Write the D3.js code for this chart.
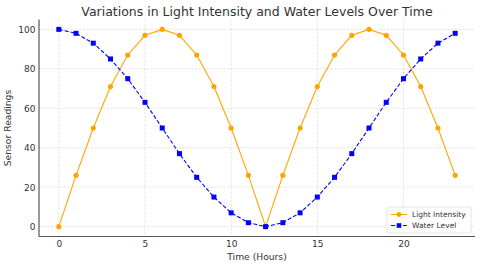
<!DOCTYPE html>
<html>
<head>
<meta charset="utf-8">
<script src="https://cdn.jsdelivr.net/npm/d3@7"></script>
<style>
  body { margin: 0; background: #fff; }
  text { font-family: "DejaVu Sans", sans-serif; }
</style>
</head>
<body>
<script>
//chart data
var hours = d3.range(0, 24);
var lightIntensity = [0, 26, 50, 71, 87, 97, 100, 97, 87, 71, 50, 26,
                      0, 26, 50, 71, 87, 97, 100, 97, 87, 71, 50, 26];
var waterLevel = [100, 98, 93, 85, 75, 63, 50, 37, 25, 15, 7, 2,
                  0, 2, 7, 15, 25, 37, 50, 63, 75, 85, 93, 98];
var xTicks = [0, 5, 10, 15, 20];
var yTicks = [0, 20, 40, 60, 80, 100];

window.onload = drawChart();

function drawChart() {
    var width = 480,
        height = 267;
    var left = 39, right = 475, top = 19.5, bottom = 236.5;

    var svg = d3.select("body")
        .append("svg")
        .attr("width", width)
        .attr("height", height);

    var x = d3.scaleLinear().domain([-1.15, 24.15]).range([left, right]);
    var y = d3.scaleLinear().domain([-5, 105]).range([bottom, top]);

    //grid
    svg.append("g").selectAll("line").data(xTicks).enter().append("line")
        .attr("x1", d => x(d)).attr("x2", d => x(d))
        .attr("y1", top).attr("y2", bottom)
        .attr("stroke", "#d9d9d9").attr("stroke-width", 0.7)
        .attr("stroke-dasharray", "2.5,1.5");
    svg.append("g").selectAll("line").data(yTicks).enter().append("line")
        .attr("x1", left).attr("x2", right)
        .attr("y1", d => y(d)).attr("y2", d => y(d))
        .attr("stroke", "#d9d9d9").attr("stroke-width", 0.7)
        .attr("stroke-dasharray", "2.5,1.5");

    //axes (no visible tick marks, like the reference)
    var xAxis = svg.append("g")
        .attr("transform", "translate(0," + bottom + ")")
        .call(d3.axisBottom(x).tickValues(xTicks).tickSize(0).tickPadding(4.5));
    var yAxis = svg.append("g")
        .attr("transform", "translate(" + left + ",0)")
        .call(d3.axisLeft(y).tickValues(yTicks).tickSize(0).tickPadding(3.5));
    [xAxis, yAxis].forEach(function (g) {
        g.select(".domain").attr("stroke", "#555").attr("stroke-width", 1.2);
        g.selectAll(".tick text").attr("fill", "#333").style("font-size", "9px")
            .style("font-family", "DejaVu Sans, sans-serif");
    });
    xAxis.select(".domain").attr("d", "M" + left + ",0H" + right);
    yAxis.select(".domain").attr("d", "M0," + bottom + "V" + top);

    //lines
    var seriesLine = d3.line().x((d, i) => x(hours[i])).y(d => y(d));
    svg.append("path").datum(lightIntensity)
        .attr("d", seriesLine)
        .attr("fill", "none").attr("stroke", "orange").attr("stroke-width", 1.1);
    svg.append("g").selectAll("circle").data(lightIntensity).enter().append("circle")
        .attr("cx", (d, i) => x(hours[i])).attr("cy", d => y(d))
        .attr("r", 2.6).attr("fill", "orange");

    svg.append("path").datum(waterLevel)
        .attr("d", seriesLine)
        .attr("fill", "none").attr("stroke", "blue").attr("stroke-width", 1.1)
        .attr("stroke-dasharray", "4,2");
    svg.append("g").selectAll("rect").data(waterLevel).enter().append("rect")
        .attr("x", (d, i) => x(hours[i]) - 2.5).attr("y", d => y(d) - 2.5)
        .attr("width", 5).attr("height", 5).attr("fill", "blue");

    //title and labels
    svg.append("text")
        .attr("x", (left + right) / 2).attr("y", 16)
        .attr("text-anchor", "middle")
        .attr("fill", "#333").style("font-size", "12.5px")
        .text("Variations in Light Intensity and Water Levels Over Time");
    svg.append("text")
        .attr("x", (left + right) / 2).attr("y", 260)
        .attr("text-anchor", "middle")
        .attr("fill", "#333").style("font-size", "9.2px")
        .text("Time (Hours)");
    svg.append("text")
        .attr("transform", "translate(11," + ((top + bottom) / 2) + ") rotate(-90)")
        .attr("text-anchor", "middle")
        .attr("fill", "#333").style("font-size", "9.2px")
        .text("Sensor Readings");

    //legend
    var lg = svg.append("g").attr("transform", "translate(387,207)");
    lg.append("rect").attr("width", 84).attr("height", 26).attr("rx", 2)
        .attr("fill", "#fff").attr("fill-opacity", 0.85)
        .attr("stroke", "#ddd").attr("stroke-width", 0.8);
    var items = [
        {name: "Light Intensity", color: "orange", dash: null, shape: "circle"},
        {name: "Water Level", color: "blue", dash: "4,2", shape: "square"}
    ];
    items.forEach(function (it, i) {
        var cy = 7.5 + i * 11;
        lg.append("line").attr("x1", 4).attr("x2", 20).attr("y1", cy).attr("y2", cy)
            .attr("stroke", it.color).attr("stroke-width", 1.1)
            .attr("stroke-dasharray", it.dash);
        if (it.shape === "circle") {
            lg.append("circle").attr("cx", 12).attr("cy", cy).attr("r", 2.4).attr("fill", it.color);
        } else {
            lg.append("rect").attr("x", 9.7).attr("y", cy - 2.3).attr("width", 4.6).attr("height", 4.6)
                .attr("fill", it.color);
        }
        lg.append("text").attr("x", 25).attr("y", cy + 2.7)
            .attr("fill", "#333").style("font-size", "7.5px").text(it.name);
    });
}
</script>
</body>
</html>
